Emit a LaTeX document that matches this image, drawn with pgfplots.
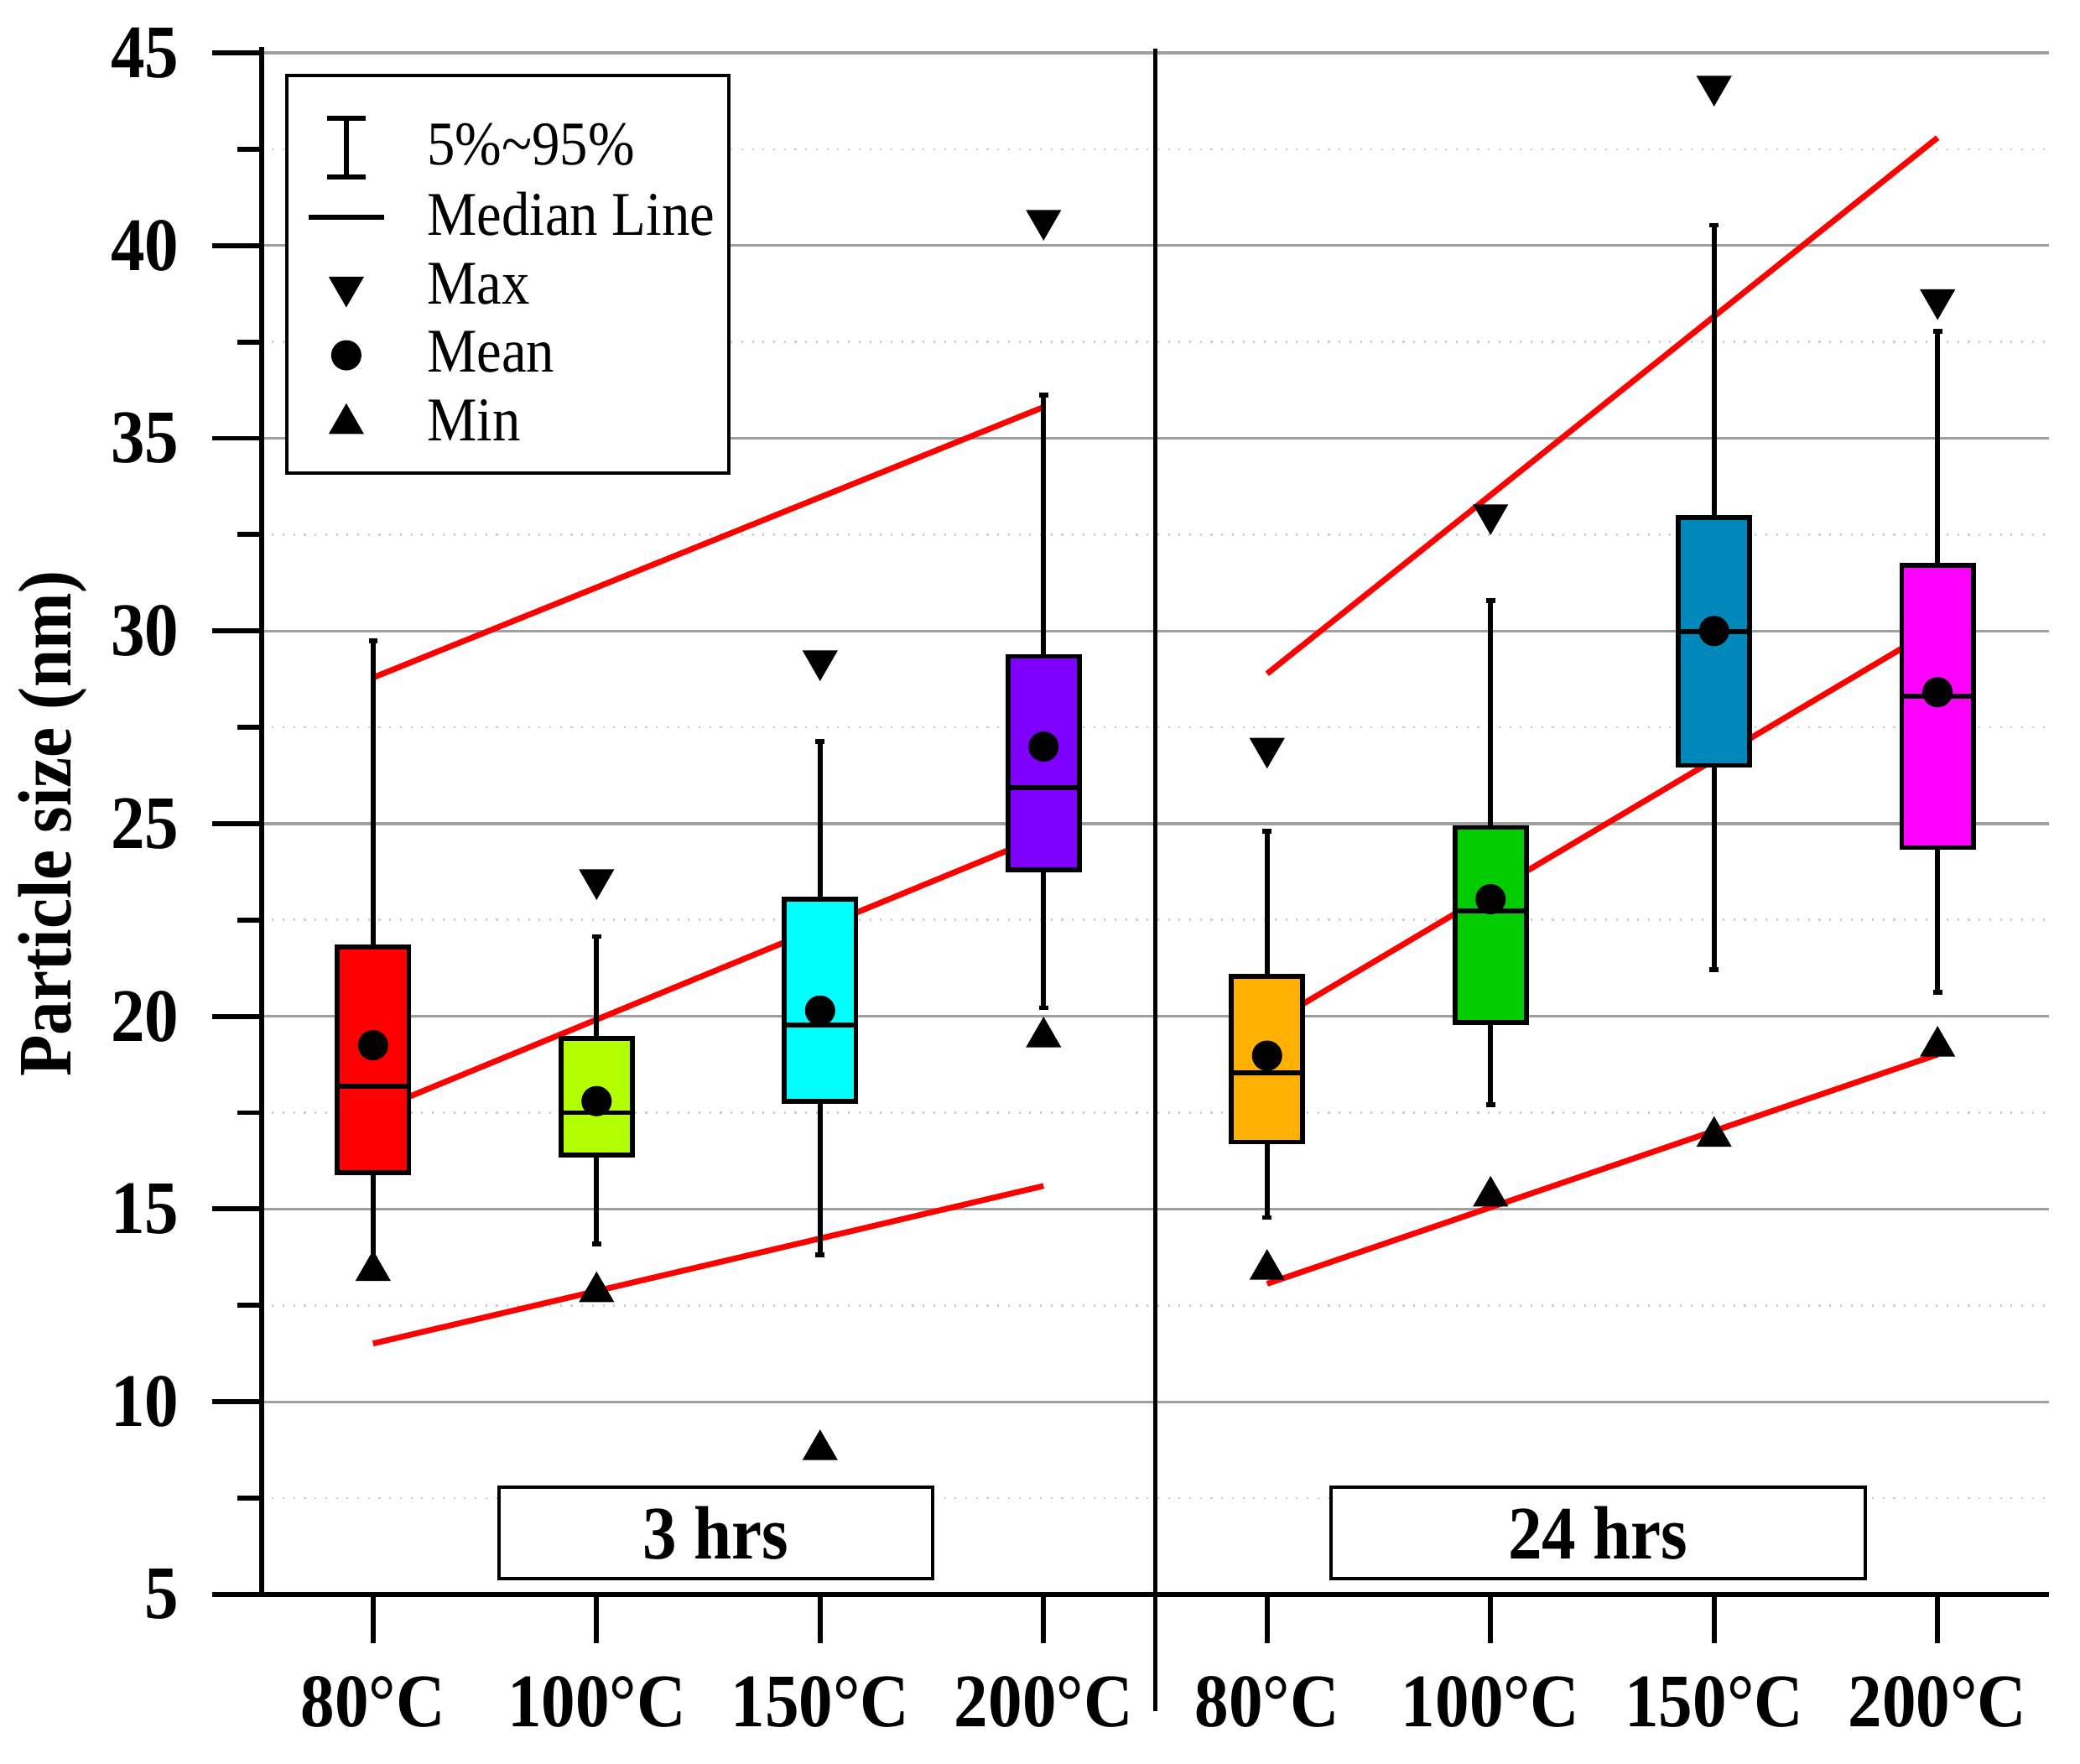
\documentclass[border=0pt]{standalone}
\usepackage{fontspec}
\setmainfont{Liberation Serif}[FakeStretch=0.9]
\usepackage{pgfplots}
\pgfplotsset{compat=1.18}
\usepgfplotslibrary{statistics}

\definecolor{cA}{HTML}{FF0000}
\definecolor{cB}{HTML}{B3FF00}
\definecolor{cC}{HTML}{00FFFF}
\definecolor{cD}{HTML}{8000FF}
\definecolor{cE}{HTML}{FFB000}
\definecolor{cF}{HTML}{00CC00}
\definecolor{cG}{HTML}{0088BB}
\definecolor{cH}{HTML}{FF00FF}

\begin{document}
\begin{tikzpicture}
\begin{axis}[
  at={(0,0)}, anchor=south west,
  scale only axis, width=402.3pt, height=346.8pt,
  xmin=-0.5, xmax=7.5, ymin=5, ymax=45,
  axis x line*=bottom, axis y line*=left,
  axis line style={line width=1.1pt, -},
  xtick={0,...,7},
  xticklabels={80°C,100°C,150°C,200°C,80°C,100°C,150°C,200°C},
  ytick={5,10,...,45},
  minor ytick={7.5,12.5,...,42.5},
  tick align=outside,
  major tick length=11pt, minor tick length=5.4pt,
  every tick/.style={line width=1.1pt, black},
  ymajorgrids, yminorgrids,
  major grid style={gray!75, line width=0.6pt},
  minor grid style={gray!40, dotted, line width=0.5pt},
  ticklabel style={font=\bfseries\fontsize{17}{18}\selectfont},
  xticklabel style={yshift=-4pt},
  yticklabel style={xshift=-4pt},
  /pgf/number format/assume math mode=true,
  ylabel={Particle size (nm)},
  ylabel style={font=\bfseries\fontsize{17}{18}\selectfont, at={(axis description cs:-0.1165,0.5)}, anchor=center},
  clip=false,
  boxplot/draw direction=y,
  legend style={at={(axis cs:-0.3045,43.42)}, anchor=north west, draw=none, fill=none,
    font=\fontsize{14}{15}\selectfont, inner xsep=0pt, inner ysep=0pt, row sep=0.7pt,
    /tikz/every odd column/.append style={column sep=7.1pt}},
  legend cell align=left,
]
% legend images
\addlegendimage{legend image code/.code={
  \draw[black, line width=1.1pt] (0.3cm,-0.23cm) -- (0.3cm,0.23cm);
  \draw[black, line width=1.1pt] (0.15cm,-0.23cm) -- (0.45cm,-0.23cm);
  \draw[black, line width=1.1pt] (0.15cm,0.23cm) -- (0.45cm,0.23cm);}}
\addlegendentry{5\%\char`~95\%}
\addlegendimage{black, line width=1.1pt}
\addlegendentry{Median Line}
\addlegendimage{only marks, black, mark=triangle*, mark size=4.2pt, mark options={rotate=180}}
\addlegendentry{Max}
\addlegendimage{only marks, black, mark=*, mark size=3.2pt}
\addlegendentry{Mean}
\addlegendimage{only marks, black, mark=triangle*, mark size=4.2pt}
\addlegendentry{Min}

% red trend lines
\addplot[forget plot, red, line width=1.3pt] coordinates {(0,28.79) (3,35.81)};
\addplot[forget plot, red, line width=1.3pt] coordinates {(0,17.53) (3,24.69)};
\addplot[forget plot, red, line width=1.3pt] coordinates {(0,11.51) (3,15.6)};
\addplot[forget plot, red, line width=1.3pt] coordinates {(4,28.89) (7,42.8)};
\addplot[forget plot, red, line width=1.3pt] coordinates {(4,19.77) (7,30.1)};
\addplot[forget plot, red, line width=1.3pt] coordinates {(4,13.06) (7,19.01)};

% boxes
\pgfplotsset{bx/.style={forget plot, solid, draw=black, line width=1.1pt}}
\addplot[bx, fill=cA, boxplot prepared={draw position=0, lower whisker=13.7, lower quartile=15.95, median=18.18, upper quartile=21.8, upper whisker=29.75, box extend=0.32, whisker extend=0.04}] coordinates {};
\addplot[bx, fill=cB, boxplot prepared={draw position=1, lower whisker=14.1, lower quartile=16.4, median=17.5, upper quartile=19.42, upper whisker=22.07, box extend=0.32, whisker extend=0.04}] coordinates {};
\addplot[bx, fill=cC, boxplot prepared={draw position=2, lower whisker=13.81, lower quartile=17.8, median=19.77, upper quartile=23.04, upper whisker=27.13, box extend=0.32, whisker extend=0.04}] coordinates {};
\addplot[bx, fill=cD, boxplot prepared={draw position=3, lower whisker=20.22, lower quartile=23.8, median=25.93, upper quartile=29.34, upper whisker=36.12, box extend=0.32, whisker extend=0.04}] coordinates {};
\addplot[bx, fill=cE, boxplot prepared={draw position=4, lower whisker=14.78, lower quartile=16.74, median=18.53, upper quartile=21.04, upper whisker=24.8, box extend=0.32, whisker extend=0.04}] coordinates {};
\addplot[bx, fill=cF, boxplot prepared={draw position=5, lower whisker=17.7, lower quartile=19.84, median=22.73, upper quartile=24.9, upper whisker=30.78, box extend=0.32, whisker extend=0.04}] coordinates {};
\addplot[bx, fill=cG, boxplot prepared={draw position=6, lower whisker=21.21, lower quartile=26.51, median=29.99, upper quartile=32.95, upper whisker=40.53, box extend=0.32, whisker extend=0.04}] coordinates {};
\addplot[bx, fill=cH, boxplot prepared={draw position=7, lower whisker=20.63, lower quartile=24.38, median=28.3, upper quartile=31.71, upper whisker=37.77, box extend=0.32, whisker extend=0.04}] coordinates {};

% mean
\addplot[forget plot, only marks, black, mark=*, mark size=3.2pt] coordinates {
(0,19.25) (1,17.8) (2,20.15) (3,27.0) (4,18.98) (5,23.04) (6,30.0) (7,28.41)};
% medians on top
\addplot[forget plot, black, line width=1.1pt] coordinates {(-0.16,18.18) (0.16,18.18)};
\addplot[forget plot, black, line width=1.1pt] coordinates {(0.84,17.5) (1.16,17.5)};
\addplot[forget plot, black, line width=1.1pt] coordinates {(1.84,19.77) (2.16,19.77)};
\addplot[forget plot, black, line width=1.1pt] coordinates {(2.84,25.93) (3.16,25.93)};
\addplot[forget plot, black, line width=1.1pt] coordinates {(3.84,18.53) (4.16,18.53)};
\addplot[forget plot, black, line width=1.1pt] coordinates {(4.84,22.73) (5.16,22.73)};
\addplot[forget plot, black, line width=1.1pt] coordinates {(5.84,29.99) (6.16,29.99)};
\addplot[forget plot, black, line width=1.1pt] coordinates {(6.84,28.3) (7.16,28.3)};
% max
\addplot[forget plot, only marks, black, mark=triangle*, mark size=4.2pt, mark options={rotate=180}] coordinates {
(1,23.55) (2,29.23) (3,40.66) (4,26.96) (5,33.02) (6,44.14) (7,38.6)};
% min
\addplot[forget plot, only marks, black, mark=triangle*, mark size=4.2pt] coordinates {
(0,13.4) (1,12.85) (2,8.75) (3,19.46) (4,13.43) (5,15.33) (6,16.88) (7,19.22)};

% legend frame
\draw[line width=0.8pt, fill=white] (axis cs:-0.3858,34.09) rectangle (axis cs:1.5905,44.415);
% divider
\draw[line width=1.1pt] (axis cs:3.5,1.97) -- (axis cs:3.5,45.1);
\draw[line width=1.1pt] (axis cs:-0.5,44.9) -- (axis cs:-0.5,45.15);
% group labels
\node[draw, line width=0.8pt, fill=white, minimum width=97.6pt, minimum height=20.6pt, inner sep=0pt,
  font=\bfseries\fontsize{17}{18}\selectfont] at (axis cs:1.534,6.6) {3 hrs};
\node[draw, line width=0.8pt, fill=white, minimum width=120.3pt, minimum height=20.6pt, inner sep=0pt,
  font=\bfseries\fontsize{17}{18}\selectfont] at (axis cs:5.481,6.6) {24 hrs};
\end{axis}
\pgfresetboundingbox
\path[use as bounding box] (-58.8pt,-38pt) rectangle (409.2pt,358.7pt);
\end{tikzpicture}
\end{document}
